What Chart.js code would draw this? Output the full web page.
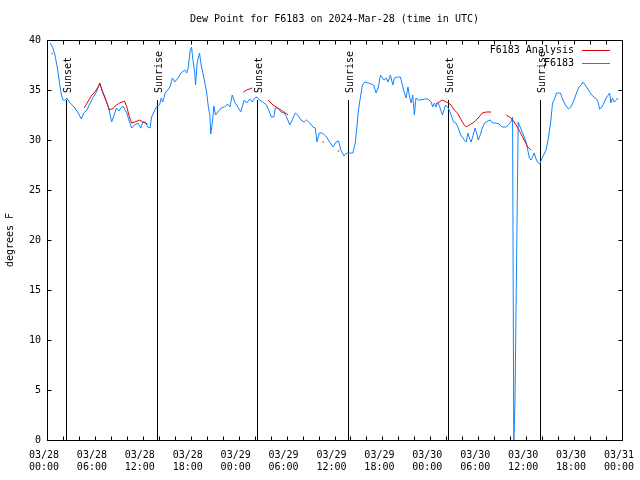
<!DOCTYPE html>
<html>
<head>
<meta charset="utf-8">
<title>Dew Point for F6183</title>
<script src="https://cdn.jsdelivr.net/npm/chart.js@4.4.1/dist/chart.umd.min.js"></script>
<style>
  body { margin: 0; background: #fff; }
  canvas { display: block; }
</style>
</head>
<body>
<canvas id="myChart" width="640" height="480"></canvas>
<script>
/* globals Chart:false */
// hours since 03/28 00:00 UTC
const obsHours = [
  0.4, 0.7, 1.0, 1.3, 1.6, 1.8, 2.0, 2.3, 2.5, 2.8, 3.5, 3.9, 4.3, 4.6, 5.0, 5.4, 5.8, 6.2, 6.6, 6.8,
  7.25, 7.7, 8.1, 8.4, 8.7, 9.0, 9.25, 9.5, 10.0, 10.25, 10.6, 11.0, 11.4, 11.75, 12.0, 12.3, 12.6, 12.9,
  13.1, 13.5, 13.8, 14.1, 14.3, 14.5, 14.8, 15.1, 15.4, 15.7, 16.0, 16.4, 16.8, 17.25, 17.5, 17.7, 17.9,
  18.1, 18.3, 18.5, 18.6, 18.8, 19.1, 19.3, 19.7, 20.0, 20.2, 20.4, 20.5, 20.7, 20.9, 21.1, 21.4, 21.8,
  22.25, 22.6, 22.9, 23.2, 23.5, 23.9, 24.25, 24.7, 25.0, 25.4, 25.7, 26.0, 26.3, 26.6, 27.0, 27.5, 27.75,
  28.1, 28.4, 28.6, 28.9, 29.3, 29.7, 30.0, 30.4, 30.7, 31.1, 31.4, 31.8, 32.2, 32.5, 32.9, 33.3, 33.6,
  33.8, 34.1, 34.5, 35.0, 35.4, 35.8, 36.2, 36.5, 36.8, 37.2, 37.5, 37.9, 38.3, 38.6, 38.8, 39.0, 39.25,
  39.5, 39.8, 40.25, 40.6, 40.9, 41.2, 41.5, 41.75, 42.2, 42.5, 42.7, 43.0, 43.3, 43.5, 43.9, 44.25, 44.5,
  44.75, 44.96, 45.2, 45.4, 45.6, 45.8, 46.0, 46.2, 46.5, 46.8, 47.25, 47.7, 48.1, 48.3, 48.5, 48.7, 48.9,
  49.1, 49.5, 49.9, 50.25, 50.6, 50.9, 51.2, 51.5, 51.8, 52.0, 52.25, 52.5, 52.7, 52.9, 53.1, 53.3, 53.6,
  53.8, 54.0, 54.25, 54.5, 54.8, 55.2, 55.5, 55.8, 56.2, 56.6, 57.0, 57.5, 57.9, 58.2, 58.3, 58.45, 58.6,
  59.0, 59.25, 59.5, 59.75, 60.0, 60.2, 60.4, 60.6, 60.8, 61.0, 61.2, 61.4, 61.7, 62.0, 62.5, 62.8, 63.1,
  63.3, 63.5, 63.8, 64.1, 64.3, 64.5, 64.9, 65.3, 65.6, 66.0, 66.3, 66.6, 66.9, 67.1, 67.4, 67.8, 68.2,
  68.5, 68.8, 69.0, 69.2, 69.5, 69.75, 70.0, 70.3, 70.45, 70.6, 70.8, 71.0, 71.3, 71.5
];
const obsValues = [
  39.7, 39.3, 38.5, 37.2, 35.5, 34.5, 34.0, 34.0, 34.2, 33.8, 33.2, 32.7, 32.1, 32.7, 33.0, 33.7, 34.3, 34.8, 35.7, 35.2,
  34.3, 33.3, 31.8, 32.5, 33.2, 32.9, 33.2, 33.4, 32.7, 32.0, 31.2, 31.5, 31.7, 31.2, 31.8, 31.8, 31.3, 31.2,
  32.3, 33.0, 33.4, 33.5, 34.2, 33.8, 34.7, 35.0, 35.3, 36.2, 35.8, 36.2, 36.7, 37.0, 36.7, 37.3, 38.8,
  39.3, 37.8, 36.8, 35.5, 37.7, 38.7, 37.5, 36.0, 34.7, 33.3, 32.5, 30.6, 31.7, 33.4, 32.5, 32.8, 33.2,
  33.3, 33.6, 33.3, 34.5, 33.8, 33.3, 32.8, 34.0, 33.7, 34.1, 33.8, 34.2, 34.3, 34.0, 33.8, 33.5, 33.0,
  32.3, 32.3, 33.2, 33.2, 32.8, 32.7, 32.3, 31.5, 32.0, 32.7, 32.5, 32.0, 31.8, 32.0, 31.7, 31.3, 31.2,
  29.8, 30.7, 30.7, 30.3, 29.8, 29.3, 29.8, 29.9, 29.0, 28.4, 28.7, 28.7, 28.7, 29.7, 31.3, 33.0, 34.3,
  35.5, 35.8, 35.7, 35.6, 35.5, 34.7, 35.3, 36.5, 36.0, 36.2, 35.8, 36.5, 35.5, 36.2, 36.3, 36.3, 35.5,
  34.7, 34.2, 35.3, 34.3, 33.7, 34.5, 32.5, 34.2, 34.0, 34.0, 34.1, 34.1, 33.8, 33.3, 33.7, 33.3, 33.7,
  33.5, 32.5, 33.5, 33.2, 32.5, 31.8, 31.7, 31.2, 30.5, 30.3, 30.0, 29.8, 30.7, 30.2, 29.8, 30.3, 31.2,
  30.7, 30.0, 30.5, 31.2, 31.7, 31.9, 32.0, 31.7, 31.7, 31.6, 31.3, 31.3, 31.6, 32.0, 32.3, -0.5, 4.0,
  31.8, 31.3, 30.8, 30.3, 29.8, 29.0, 28.2, 28.0, 28.3, 28.7, 28.2, 27.8, 27.6, 28.2, 29.0, 30.3, 32.0,
  33.7, 34.0, 34.7, 34.7, 34.7, 34.2, 33.5, 33.1, 33.3, 34.0, 34.7, 35.3, 35.5, 35.8, 35.5, 35.0, 34.5,
  34.3, 34.1, 33.8, 33.1, 33.3, 33.7, 34.2, 34.5, 34.7, 33.7, 34.2, 33.8, 34.0, 34.2
];

// analysis (null = gap)
const anaHours = [
  0.55, 0.75, 0.76,
  4.65, 5.1, 5.6, 6.0, 6.4, 6.6, 7.0, 7.5, 7.8, 8.3, 8.7, 9.1, 9.7, 10.0, 10.25, 10.6, 11.0, 11.6, 12.0, 12.6, 12.61,
  24.6, 25.0, 25.7, 25.71,
  27.7, 28.3, 28.9, 29.5, 30.2, 30.21,
  34.5, 34.7, 34.71,
  36.4, 36.6, 36.61,
  48.7, 49.1, 49.5, 50.0, 50.25, 50.6, 51.0, 51.4, 51.8, 52.25, 52.5, 52.9, 53.5, 54.1, 54.5, 55.0, 55.6, 55.61,
  57.5, 58.1, 58.5, 58.9, 59.3, 59.75, 60.2, 60.6
];
const anaValues = [
  38.7, 38.6, null,
  33.2, 33.8, 34.5, 34.8, 35.3, 35.7, 34.7, 33.7, 33.0, 33.2, 33.5, 33.7, 33.9, 33.3, 32.5, 31.7, 31.8, 32.0, 31.8, 31.6, null,
  34.8, 35.0, 35.2, null,
  34.0, 33.5, 33.2, 32.9, 32.5, null,
  29.8, 29.8, null,
  28.9, 28.9, null,
  33.6, 33.8, 34.0, 33.8, 33.7, 33.5, 33.0, 32.7, 32.1, 31.5, 31.3, 31.5, 31.8, 32.3, 32.7, 32.8, 32.8, null,
  32.5, 32.2, 31.8, 31.3, 30.7, 30.0, 29.3, 29.0
];

const sunHours = [2.33, 13.75, 26.25, 37.75, 50.25, 61.75];
const sunLabels = ["Sunset", "Sunrise", "Sunset", "Sunrise", "Sunset", "Sunrise"];
const sunLineTop = 34;

const xTickLabels = [
  ["03/28", "00:00"], ["03/28", "06:00"], ["03/28", "12:00"], ["03/28", "18:00"],
  ["03/29", "00:00"], ["03/29", "06:00"], ["03/29", "12:00"], ["03/29", "18:00"],
  ["03/30", "00:00"], ["03/30", "06:00"], ["03/30", "12:00"], ["03/30", "18:00"],
  ["03/31", "00:00"]
];

const RED = "#e80000";
const BLUE = "#1084ff";
const FONT = "DejaVu Sans Mono";

const toPoints = (xs, ys) => xs.map((x, i) => ({ x: x, y: ys[i] }));

// sunrise / sunset markers, frame, inward ticks and legend
const decorations = {
  id: "decorations",
  beforeDatasetsDraw(chart) {
    const c = chart.ctx;
    const xs = chart.scales.x;
    const ys = chart.scales.y;
    c.save();
    c.strokeStyle = "#000";
    c.fillStyle = "#000";
    c.lineWidth = 1;
    c.font = "10px '" + FONT + "'";
    sunHours.forEach((h, i) => {
      const px = Math.round(xs.getPixelForValue(h)) + 0.5;
      const top = ys.getPixelForValue(sunLineTop);
      c.beginPath();
      c.moveTo(px, ys.getPixelForValue(0));
      c.lineTo(px, top);
      c.stroke();
      c.save();
      c.translate(px + 1.5, top - 7);
      c.rotate(-Math.PI / 2);
      c.textAlign = "left";
      c.textBaseline = "middle";
      c.fillText(sunLabels[i], 0, 0);
      c.restore();
    });
    c.restore();
  },
  afterDraw(chart) {
    const c = chart.ctx;
    const a = chart.chartArea;
    const xs = chart.scales.x;
    const ys = chart.scales.y;
    const L = Math.round(a.left) + 0.5;
    const R = Math.round(a.right) + 0.5;
    const T = Math.round(a.top) + 0.5;
    const B = Math.round(a.bottom) + 0.5;
    c.save();
    c.strokeStyle = "#000";
    c.lineWidth = 1;
    c.strokeRect(L, T, R - L, B - T);
    c.beginPath();
    for (let h = 0; h <= 72; h += 2) {
      const px = Math.round(xs.getPixelForValue(h)) + 0.5;
      c.moveTo(px, B); c.lineTo(px, B - 4);
      c.moveTo(px, T); c.lineTo(px, T + 4);
    }
    for (let v = 0; v <= 40; v += 5) {
      const py = Math.round(ys.getPixelForValue(v)) + 0.5;
      c.moveTo(L, py); c.lineTo(L + 4, py);
      c.moveTo(R, py); c.lineTo(R - 4, py);
    }
    c.stroke();

    // legend inside the plot, top right
    c.font = "10px '" + FONT + "'";
    c.textAlign = "right";
    c.textBaseline = "middle";
    c.fillStyle = "#000";
    chart.data.datasets.forEach((ds, i) => {
      const y = 50 + i * 13;
      c.fillText(ds.label, 574, y);
      c.strokeStyle = ds.borderColor;
      c.beginPath();
      c.moveTo(582, y + 0.5);
      c.lineTo(610, y + 0.5);
      c.stroke();
    });
    c.restore();
  },
};

document.addEventListener("DOMContentLoaded", () => {
  const canvas = document.getElementById("myChart");
  const ctx = canvas.getContext("2d");
  Chart.defaults.font.family = FONT;
  Chart.defaults.font.size = 10;
  Chart.defaults.color = "#000";

  new Chart(ctx, {
    type: "line",
    data: {
      datasets: [
        {
          label: "F6183 Analysis",
          data: toPoints(anaHours, anaValues),
          borderColor: RED,
          borderWidth: 1,
          pointRadius: 0,
          tension: 0,
          spanGaps: false,
        },
        {
          label: "F6183",
          data: toPoints(obsHours, obsValues),
          borderColor: BLUE,
          borderWidth: 1,
          pointRadius: 0,
          tension: 0,
        },
      ],
    },
    options: {
      responsive: false,
      animation: false,
      layout: { padding: { left: 0, right: 18, top: 0, bottom: 0 } },
      plugins: {
        legend: { display: false },
        tooltip: { enabled: false },
        title: {
          display: true,
          text: "Dew Point for F6183 on 2024-Mar-28 (time in UTC)",
          fullSize: false,
          font: { size: 10, weight: "normal" },
          padding: { top: 13, bottom: 15 },
        },
      },
      scales: {
        x: {
          type: "linear",
          min: 0,
          max: 72,
          grid: { display: false, drawTicks: false },
          border: { display: false },
          ticks: {
            stepSize: 6,
            autoSkip: false,
            maxRotation: 0,
            minRotation: 0,
            padding: 9,
            labelOffset: -3,
            callback: (value) => xTickLabels[Math.round(value / 6)],
          },
          afterFit: (scale) => {
            scale.height = 40;
            scale.paddingLeft = 0;
            scale.paddingRight = 0;
          },
        },
        y: {
          min: 0,
          max: 40,
          grid: { display: false, drawTicks: false },
          border: { display: false },
          ticks: { stepSize: 5, padding: 6 },
          title: {
            display: true,
            text: "degrees F",
            font: { size: 10 },
            padding: { top: 4, bottom: 0 },
          },
          afterFit: (scale) => { scale.width = 47; },
        },
      },
    },
    plugins: [decorations],
  });
});
</script>
</body>
</html>
